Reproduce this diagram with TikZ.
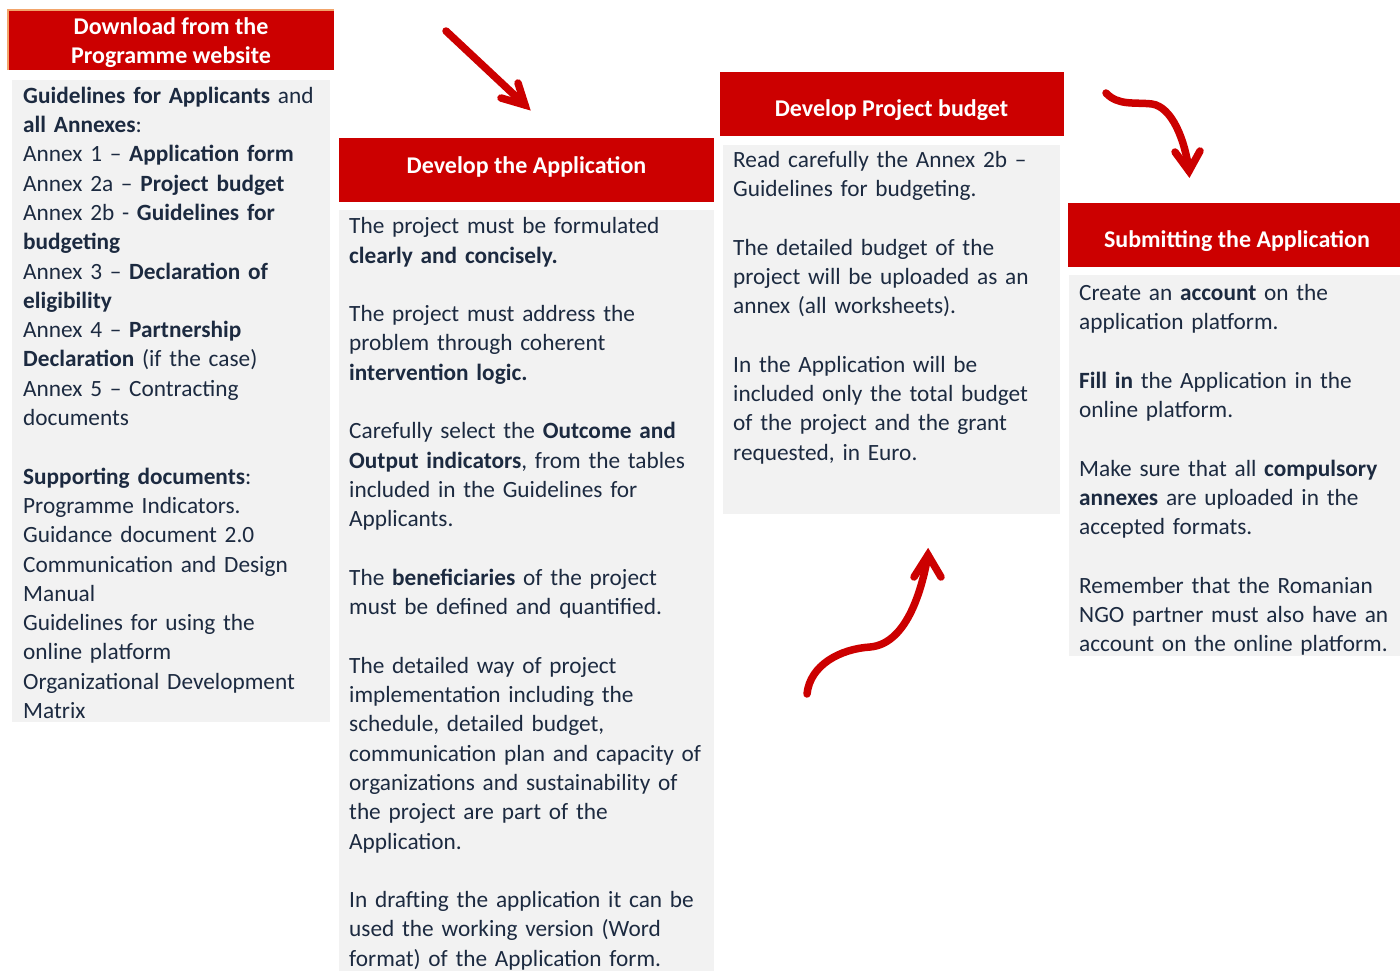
\documentclass[tikz,border=0pt]{standalone}
\usepackage{fontspec}
\setmainfont{Carlito}
\definecolor{myred}{HTML}{CC0000}
\definecolor{boxgray}{HTML}{F2F2F2}
\definecolor{txt}{HTML}{1C2A40}
\definecolor{edgeorange}{HTML}{F2A46A}
\newcommand\bls{29.3pt}
\tikzset{
  hdr/.style={rectangle, fill=myred, inner sep=0pt},
  hdrtext/.style={text=white, inner sep=0pt, align=center,
    font=\fontsize{24}{29}\selectfont\bfseries},
  bodybox/.style={rectangle, fill=boxgray, inner sep=0pt, anchor=north west},
  bodytext/.style={anchor=north west, inner sep=0pt, text width=400pt, align=left,
    text=txt, font=\fontsize{23.3}{29.3}\selectfont},
  arr/.style={draw=myred, line width=7.5pt, line cap=round, line join=round},
  arrhead/.style={draw=myred, line width=7.5pt, line cap=round, line join=miter}
}
\begin{document}
\begin{tikzpicture}[x=1pt,y=-1pt]
\useasboundingbox (0,0) rectangle (1400,971);

% Box 1
\node[hdr, minimum width=326pt, minimum height=60pt] (h1) at (171,40) {};
\node[hdrtext] (h1t) at (171,42.5) {Download from the\\Programme website};
\draw[edgeorange, line width=1.5pt] (h1.south west) -- (h1.north west) -- (h1.north east);
\node[bodybox, minimum width=318pt, minimum height=642pt] (b1) at (12,80) {};
\node[bodytext] (t1) at (23,82.5) {\strut\textbf{Guidelines for Applicants} and\\
\textbf{all Annexes}:\\
Annex 1 -- \textbf{Application form}\\
Annex 2a -- \textbf{Project budget}\\
Annex 2b - \textbf{Guidelines for}\\
\textbf{budgeting}\\
Annex 3 -- \textbf{Declaration of}\\
\textbf{eligibility}\\
Annex 4 -- \textbf{Partnership}\\
\textbf{Declaration} (if the case)\\
Annex 5 -- Contracting\\
documents\\[\bls]
\textbf{Supporting documents}:\\
Programme Indicators.\\
Guidance document 2.0\\
Communication and Design\\
Manual\\
Guidelines for using the\\
online platform\\
Organizational Development\\
Matrix};

% Box 2
\node[hdr, minimum width=375pt, minimum height=64pt] (h2) at (526.5,170) {};
\node[hdrtext] (h2t) at (526.5,167) {Develop the Application};
\node[bodybox, minimum width=375pt, minimum height=761pt] (b2) at (339,210) {};
\node[bodytext] (t2) at (349,213) {\strut The project must be formulated\\
\textbf{clearly and concisely.}\\[\bls]
The project must address the\\
problem through coherent\\
\textbf{intervention logic.}\\[\bls]
Carefully select the \textbf{Outcome and}\\
\textbf{Output indicators}, from the tables\\
included in the Guidelines for\\
Applicants.\\[\bls]
The \textbf{beneficiaries} of the project\\
must be defined and quantified.\\[\bls]
The detailed way of project\\
implementation including the\\
schedule, detailed budget,\\
communication plan and capacity of\\
organizations and sustainability of\\
the project are part of the\\
Application.\\[\bls]
In drafting the application it can be\\
used the working version (Word\\
format) of the Application form.};

% Box 3
\node[hdr, minimum width=344pt, minimum height=64pt] (h3) at (892,104) {};
\node[hdrtext] (h3t) at (891.5,110) {Develop Project budget};
\node[bodybox, minimum width=337pt, minimum height=369pt] (b3) at (723,145) {};
\node[bodytext] (t3) at (733,146.5) {\strut Read carefully the Annex 2b --\\
Guidelines for budgeting.\\[\bls]
The detailed budget of the\\
project will be uploaded as an\\
annex (all worksheets).\\[\bls]
In the Application will be\\
included only the total budget\\
of the project and the grant\\
requested, in Euro.};

% Box 4
\node[hdr, minimum width=332pt, minimum height=64pt] (h4) at (1234,235) {};
\node[hdrtext] (h4t) at (1237,241) {Submitting the Application};
\node[bodybox, minimum width=331pt, minimum height=381pt] (b4) at (1069,275) {};
\node[bodytext] (t4) at (1079,279.5) {\strut Create an \textbf{account} on the\\
application platform.\\[\bls]
\textbf{Fill in} the Application in the\\
online platform.\\[\bls]
Make sure that all \textbf{compulsory}\\
\textbf{annexes} are uploaded in the\\
accepted formats.\\[\bls]
Remember that the Romanian\\
NGO partner must also have an\\
account on the online platform.};

% Arrow 1 (straight)
\coordinate (a1s) at (446,31);
\coordinate (a1t) at (525,105);
\draw[arr] (a1s) -- (a1t);
\draw[arrhead] (518,83) -- (a1t) -- (501,98);

% Arrow 2 (top right, curved down)
\coordinate (a2s) at (1106,93);
\coordinate (a2m) at (1152,104);
\coordinate (a2t) at (1189,171);
\draw[arr] (a2s) .. controls (1118,106) and (1135,102) .. (a2m) .. controls (1172,107) and (1185,140) .. (a2t);
\draw[arrhead] (1175,152) -- (a2t) -- (1200,151);

% Arrow 3 (bottom, curved up)
\coordinate (a3s) at (807,694);
\coordinate (a3m) at (870,647);
\coordinate (a3t) at (928,555);
\draw[arr] (a3s) .. controls (810,665) and (840,649) .. (a3m) .. controls (905,644) and (921,595) .. (a3t);
\draw[arrhead] (914,577) -- (a3t) -- (941,577);
\end{tikzpicture}
\end{document}
